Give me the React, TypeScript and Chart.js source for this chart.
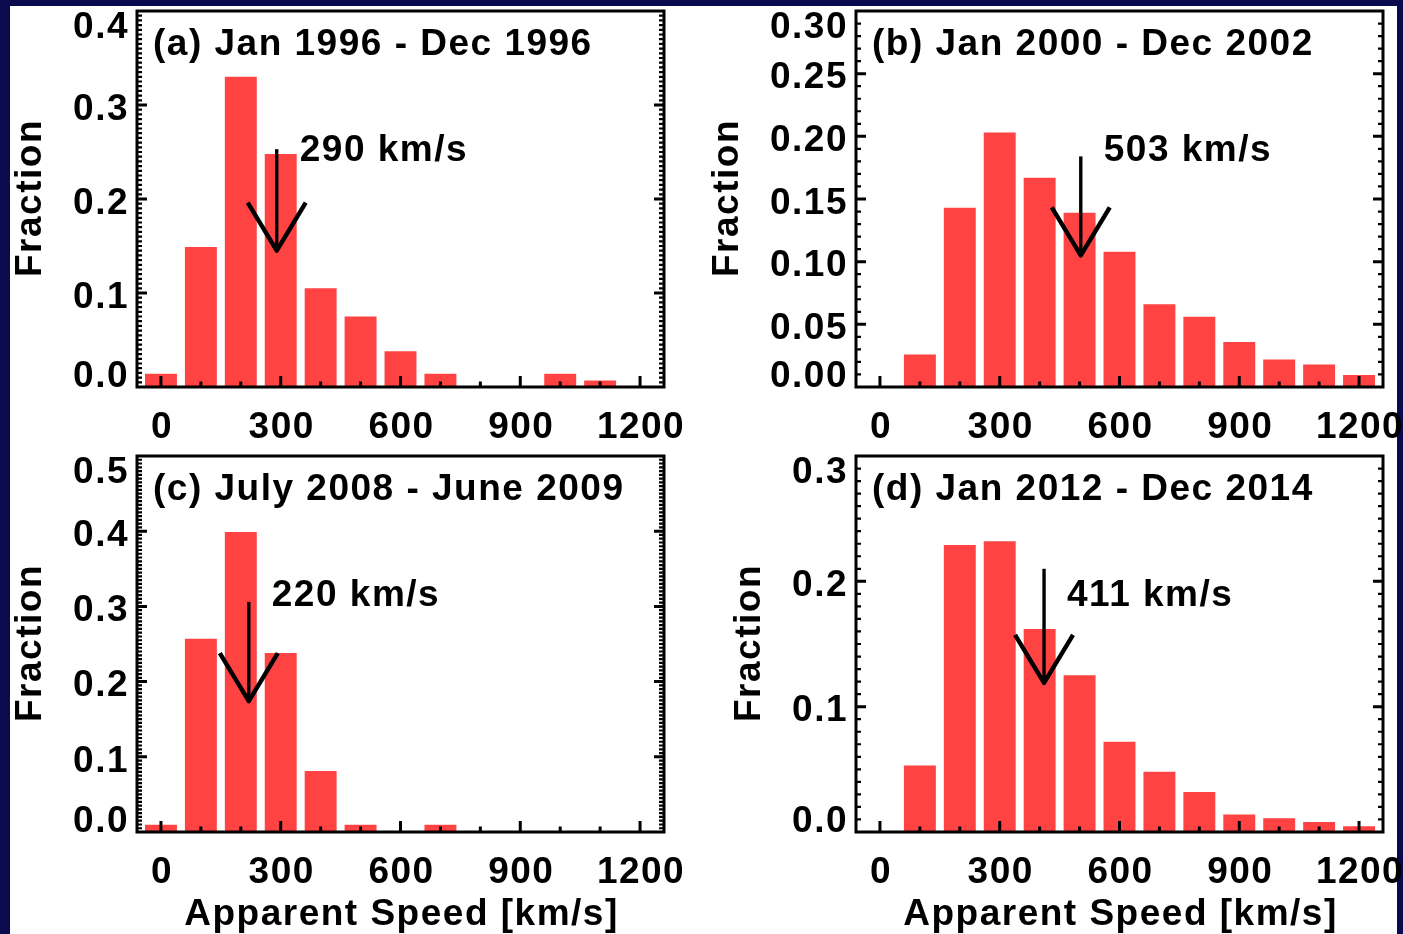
import React, { useEffect, useRef } from "react";
import { Chart, registerables } from "chart.js";

Chart.register(...registerables);

// Histogram bin centres (km/s)
const speedBins = [0, 100, 200, 300, 400, 500, 600, 700, 800, 900, 1000, 1100, 1200];

// Fraction of events per speed bin, one series per epoch
const fraction1996 = [0.014, 0.149, 0.33, 0.248, 0.105, 0.075, 0.038, 0.014, 0, 0, 0.014, 0.007, 0];
const fraction2000 = [0, 0.026, 0.143, 0.203, 0.167, 0.139, 0.108, 0.066, 0.056, 0.036, 0.022, 0.018, 0.0095];
const fraction2008 = [0.0097, 0.257, 0.399, 0.238, 0.081, 0.0097, 0, 0.0097, 0, 0, 0, 0, 0];
const fraction2012 = [0, 0.053, 0.229, 0.232, 0.162, 0.125, 0.072, 0.048, 0.032, 0.014, 0.011, 0.008, 0.0046];

// Axis ticks
const speedTicks = [0, 300, 600, 900, 1200];
const yTicks1996 = [0, 0.1, 0.2, 0.3, 0.4];
const yTicks2000 = [0, 0.05, 0.1, 0.15, 0.2, 0.25, 0.3];
const yTicks2008 = [0, 0.1, 0.2, 0.3, 0.4, 0.5];
const yTicks2012 = [0, 0.1, 0.2, 0.3];

// Panel headings
const panelTitles = [
  "(a) Jan 1996 - Dec 1996",
  "(b) Jan 2000 - Dec 2002",
  "(c) July 2008 - June 2009",
  "(d) Jan 2012 - Dec 2014",
];

// Mean apparent speed (km/s) and the fraction range spanned by its arrow
const meanSpeeds = [290, 503, 220, 411];
const arrowFrom = [0.253, 0.184, 0.306, 0.21];
const arrowTo = [0.145, 0.105, 0.174, 0.119];

const FONT = 'bold 37px "Liberation Sans", Arial, Helvetica, sans-serif';
const CAP = 26.5;
const SPACING = "1.5px";
const BAR_RED = "#ff4343";
const NAVY = "#0a0a4e";

type Panel = {
  title: string;
  values: number[];
  yTicks: number[];
  yDecimals: number;
  yMax: number;
  yMinor: number;
  mean: number;
  from: number;
  to: number;
  showXTitle: boolean;
  box: { left: number; top: number; width: number; height: number };
  padding: { left: number; top: number; right: number; bottom: number };
};

const panels: Panel[] = [
  {
    title: panelTitles[0], values: fraction1996, yTicks: yTicks1996, yDecimals: 1, yMax: 0.4, yMinor: 0.005,
    mean: meanSpeeds[0], from: arrowFrom[0], to: arrowTo[0], showXTitle: false,
    box: { left: 10, top: 6, width: 708, height: 439 },
    padding: { left: 127, top: 5, right: 54, bottom: 58 },
  },
  {
    title: panelTitles[1], values: fraction2000, yTicks: yTicks2000, yDecimals: 2, yMax: 0.3, yMinor: 0.01,
    mean: meanSpeeds[1], from: arrowFrom[1], to: arrowTo[1], showXTitle: false,
    box: { left: 690, top: 6, width: 713, height: 439 },
    padding: { left: 166, top: 5, right: 20, bottom: 58 },
  },
  {
    title: panelTitles[2], values: fraction2008, yTicks: yTicks2008, yDecimals: 1, yMax: 0.5, yMinor: 0.005,
    mean: meanSpeeds[2], from: arrowFrom[2], to: arrowTo[2], showXTitle: true,
    box: { left: 10, top: 445, width: 708, height: 489 },
    padding: { left: 127, top: 11, right: 54, bottom: 102 },
  },
  {
    title: panelTitles[3], values: fraction2012, yTicks: yTicks2012, yDecimals: 1, yMax: 0.3, yMinor: 0.01,
    mean: meanSpeeds[3], from: arrowFrom[3], to: arrowTo[3], showXTitle: true,
    box: { left: 690, top: 445, width: 713, height: 489 },
    padding: { left: 166, top: 11, right: 20, bottom: 102 },
  },
];

function setText(ctx: CanvasRenderingContext2D) {
  ctx.font = FONT;
  (ctx as any).letterSpacing = SPACING;
  ctx.fillStyle = "#000";
}

function framePlugin(p: Panel) {
  return {
    id: "boxedAxes",
    afterDatasetsDraw(chart: any) {
      const { ctx, chartArea: a, scales } = chart;
      const xs = scales.x;
      const ys = scales.y;
      ctx.save();
      ctx.strokeStyle = "#000";
      ctx.lineCap = "butt";

      // y minor / major ticks on left and right axes, pointing inward
      const nMinor = Math.round(p.yMax / p.yMinor);
      for (let i = 1; i < nMinor; i++) {
        const v = i * p.yMinor;
        const isMajor = p.yTicks.some((t) => Math.abs(t - v) < 1e-9);
        const y = ys.getPixelForValue(v);
        const len = isMajor ? 10 : 5;
        ctx.lineWidth = isMajor ? 3 : 2.2;
        ctx.beginPath();
        ctx.moveTo(a.left, y);
        ctx.lineTo(a.left + len, y);
        ctx.moveTo(a.right, y);
        ctx.lineTo(a.right - len, y);
        ctx.stroke();
      }

      // x ticks on the bottom axis, pointing up
      ctx.lineWidth = 3;
      speedBins.forEach((v) => {
        const isMajor = speedTicks.includes(v);
        const x = xs.getPixelForValue(v);
        ctx.beginPath();
        ctx.moveTo(x, a.bottom);
        ctx.lineTo(x, a.bottom - (isMajor ? 11 : 5.5));
        ctx.stroke();
      });

      // frame
      ctx.lineWidth = 3;
      ctx.strokeRect(a.left, a.top, a.right - a.left, a.bottom - a.top);

      // mean speed arrow
      const ax = xs.getPixelForValue(p.mean);
      const y0 = ys.getPixelForValue(p.from);
      const y1 = ys.getPixelForValue(p.to);
      ctx.lineWidth = 3.4;
      ctx.beginPath();
      ctx.moveTo(ax, y0);
      ctx.lineTo(ax, y1);
      ctx.stroke();
      ctx.lineWidth = 4.4;
      ctx.lineJoin = "round";
      ctx.beginPath();
      ctx.moveTo(ax - 29, y1 - 48);
      ctx.lineTo(ax, y1);
      ctx.lineTo(ax + 29, y1 - 48);
      ctx.stroke();

      // text
      setText(ctx);
      ctx.textBaseline = "alphabetic";

      // y tick labels, kept inside the axis extent at both ends
      ctx.textAlign = "right";
      let maxW = 0;
      p.yTicks.forEach((v) => {
        const label = v.toFixed(p.yDecimals);
        maxW = Math.max(maxW, ctx.measureText(label).width);
        const y = ys.getPixelForValue(v);
        const base = Math.min(a.bottom, Math.max(a.top + CAP, y + CAP / 2 + 1.5));
        ctx.fillText(label, a.left - 8, base);
      });

      // x tick labels
      ctx.textAlign = "center";
      speedTicks.forEach((v) => {
        ctx.fillText(String(v), xs.getPixelForValue(v) + 1, a.bottom + 51);
      });

      if (p.showXTitle) {
        ctx.fillText("Apparent Speed [km/s]", (a.left + a.right) / 2 + 1, a.bottom + 93);
      }

      // y axis title
      ctx.save();
      ctx.translate(a.left - 8 - maxW - 32, (a.top + a.bottom) / 2);
      ctx.rotate(-Math.PI / 2);
      ctx.textAlign = "center";
      ctx.fillText("Fraction", 1, 0);
      ctx.restore();

      // panel heading
      ctx.textAlign = "left";
      ctx.fillText(p.title, a.left + 16, a.top + 44);

      // mean speed label
      ctx.fillText(`${p.mean} km/s`, ax + 23, a.top + 150);

      ctx.restore();
    },
  };
}

function HistogramPanel({ panel }: { panel: Panel }) {
  const ref = useRef<HTMLCanvasElement | null>(null);

  useEffect(() => {
    const canvas = ref.current;
    if (!canvas) return;
    const chart = new Chart(canvas, {
      type: "bar",
      data: {
        datasets: [
          {
            data: speedBins.map((x, i) => ({ x, y: panel.values[i] })),
            backgroundColor: BAR_RED,
            borderWidth: 0,
            barPercentage: 0.8,
            categoryPercentage: 1,
          },
        ],
      },
      options: {
        animation: false,
        responsive: false,
        devicePixelRatio: 1,
        events: [],
        layout: { padding: panel.padding },
        plugins: { legend: { display: false }, tooltip: { enabled: false } },
        scales: {
          x: { type: "linear", min: -60, max: 1260, offset: false, display: false },
          y: { type: "linear", min: 0, max: panel.yMax, display: false },
        },
      },
      plugins: [framePlugin(panel)],
    } as any);
    return () => chart.destroy();
  }, [panel]);

  return (
    <canvas
      ref={ref}
      width={panel.box.width}
      height={panel.box.height}
      style={{
        position: "absolute",
        left: panel.box.left,
        top: panel.box.top,
        width: panel.box.width,
        height: panel.box.height,
      }}
    />
  );
}

export default function App() {
  return (
    <div
      style={{
        position: "fixed",
        left: 0,
        top: 0,
        width: 1403,
        height: 934,
        background: NAVY,
        overflow: "hidden",
      }}
    >
      <div
        style={{
          position: "absolute",
          left: 10,
          top: 6,
          width: 1387,
          height: 928,
          background: "#fff",
        }}
      />
      {panels.map((p, i) => (
        <HistogramPanel key={i} panel={p} />
      ))}
    </div>
  );
}
